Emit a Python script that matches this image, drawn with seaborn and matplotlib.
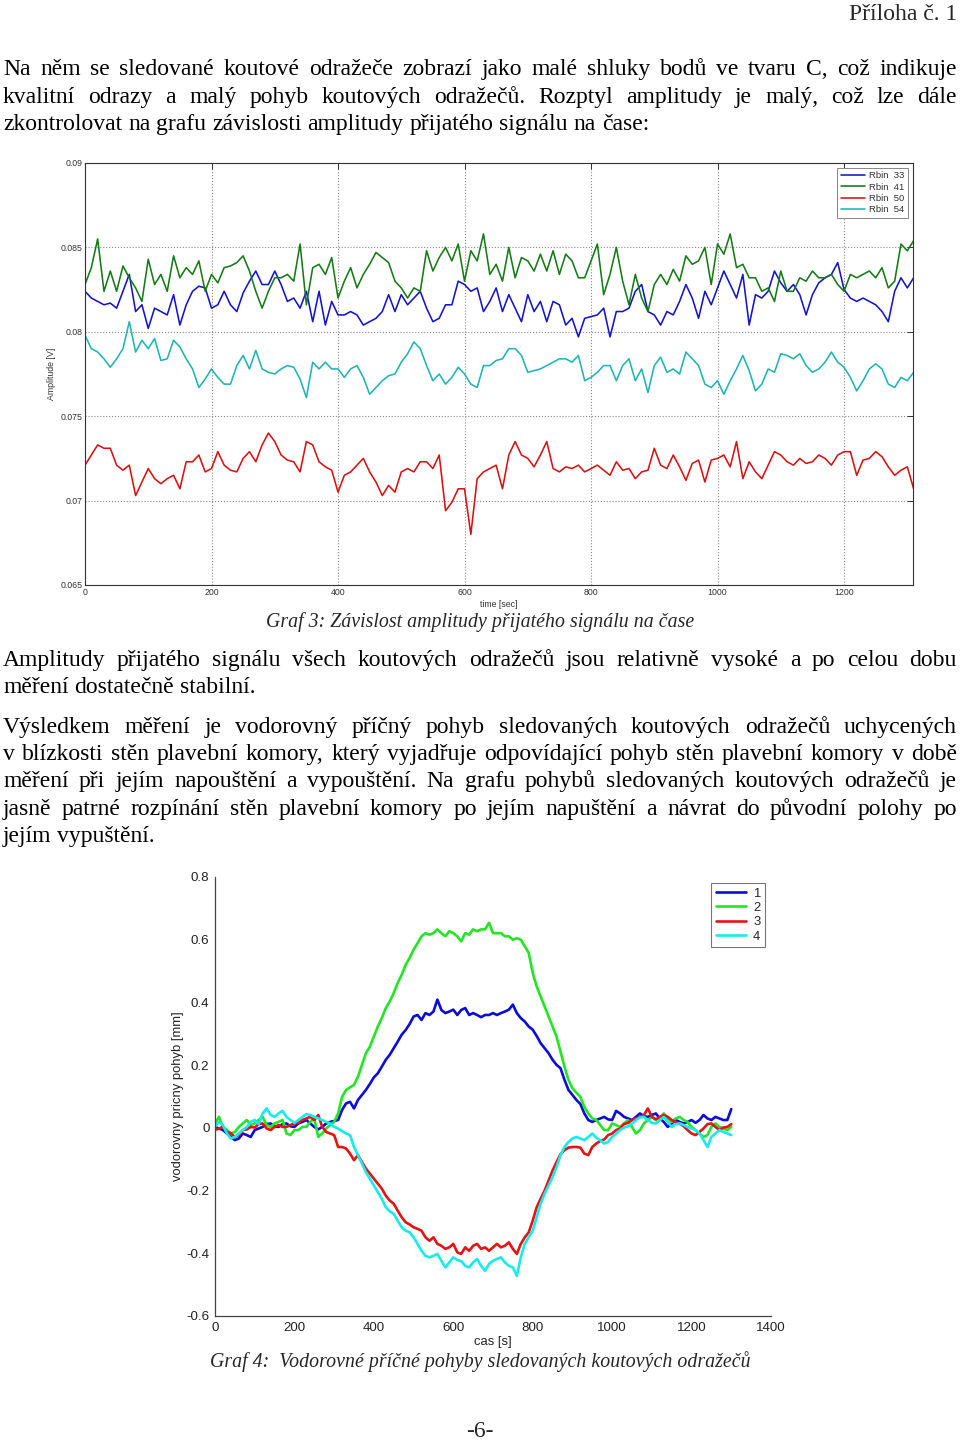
import numpy as np
import pandas as pd
import matplotlib
matplotlib.use("Agg")
import matplotlib.pyplot as plt
from matplotlib.ticker import FixedLocator, FixedFormatter
import seaborn as sns

W, H = 960, 1440
sns.set_theme(style="white")
plt.rcParams["font.family"] = ["Liberation Sans", "DejaVu Sans"]
SERIF = ["Liberation Serif", "DejaVu Serif"]

# ---------------- Graf 3: amplitude vs time (sampled every 10 s) ----------------
amp_step_s = 10
rbin33 = [0.0824, 0.0820, 0.0818, 0.0816, 0.0817, 0.0814, 0.0824, 0.0834, 0.0812, 0.0816,
          0.0802, 0.0814, 0.0812, 0.0810, 0.0822, 0.0804, 0.0816, 0.0824, 0.0827, 0.0826,
          0.0814, 0.0816, 0.0824, 0.0816, 0.0812, 0.0823, 0.0830, 0.0836, 0.0828, 0.0828,
          0.0836, 0.0828, 0.0818, 0.0820, 0.0814, 0.0824, 0.0806, 0.0824, 0.0804, 0.0818,
          0.0810, 0.0810, 0.0812, 0.0810, 0.0804,
          0.0806, 0.0808, 0.0812, 0.0822, 0.0812, 0.0822, 0.0816, 0.0820, 0.0824, 0.0814,
          0.0806, 0.0808, 0.0816, 0.0816, 0.0830, 0.0828, 0.0824, 0.0826, 0.0812, 0.0818,
          0.0826, 0.0812, 0.0822, 0.0814, 0.0806, 0.0822, 0.0812, 0.0818, 0.0806, 0.0818,
          0.0816, 0.0804, 0.0808, 0.0797, 0.0808, 0.0809, 0.0810, 0.0814, 0.0797, 0.0812,
          0.0812, 0.0814, 0.0824,
          0.0828, 0.0812, 0.0810, 0.0804, 0.0812, 0.0810, 0.0818, 0.0828, 0.0820, 0.0808,
          0.0824, 0.0816, 0.0826, 0.0836, 0.0828, 0.0820, 0.0834, 0.0804, 0.0822, 0.0820,
          0.0824, 0.0836, 0.0829, 0.0824, 0.0828, 0.0822, 0.0810, 0.0822, 0.0829, 0.0832,
          0.0834, 0.0841, 0.0825, 0.0820, 0.0818, 0.0820, 0.0818, 0.0816, 0.0812, 0.0806,
          0.0824, 0.0832, 0.0826, 0.0832]
rbin41 = [0.0828, 0.0838, 0.0855, 0.0824, 0.0836, 0.0824, 0.0839, 0.0832, 0.0826, 0.0818,
          0.0843, 0.0828, 0.0834, 0.0824, 0.0845, 0.0832, 0.0838, 0.0834, 0.0842, 0.0824,
          0.0834, 0.0829, 0.0838, 0.0839, 0.0841, 0.0845, 0.0836, 0.0824, 0.0814, 0.0824,
          0.0832, 0.0832, 0.0834, 0.0830, 0.0852, 0.0816, 0.0838, 0.0840, 0.0834, 0.0844,
          0.0820, 0.0830, 0.0838, 0.0826, 0.0834,
          0.0840, 0.0847, 0.0844, 0.0841, 0.0830, 0.0826, 0.0820, 0.0826, 0.0824, 0.0848,
          0.0836, 0.0844, 0.0850, 0.0842, 0.0852, 0.0830, 0.0848, 0.0842, 0.0858, 0.0834,
          0.0840, 0.0830, 0.0850, 0.0832, 0.0844, 0.0842, 0.0836, 0.0846, 0.0836, 0.0848,
          0.0834, 0.0846, 0.0842, 0.0832, 0.0832, 0.0842, 0.0852, 0.0822, 0.0834, 0.0850,
          0.0830, 0.0816, 0.0834,
          0.0820, 0.0812, 0.0828, 0.0834, 0.0828, 0.0837, 0.0830, 0.0845, 0.0840, 0.0842,
          0.0850, 0.0828, 0.0852, 0.0846, 0.0858, 0.0838, 0.0840, 0.0832, 0.0832, 0.0824,
          0.0826, 0.0818, 0.0836, 0.0824, 0.0824, 0.0832, 0.0830, 0.0836, 0.0832, 0.0832,
          0.0834, 0.0828, 0.0824, 0.0834, 0.0832, 0.0834, 0.0836, 0.0832, 0.0838, 0.0826,
          0.0830, 0.0852, 0.0848, 0.0854]
rbin50 = [0.0721, 0.0727, 0.0733, 0.0731, 0.0731, 0.0721, 0.0718, 0.0721, 0.0703, 0.0711,
          0.0719, 0.0713, 0.0710, 0.0713, 0.0715, 0.0707, 0.0723, 0.0723, 0.0727, 0.0717,
          0.0719, 0.0729, 0.0721, 0.0718, 0.0717, 0.0725, 0.0729, 0.0723, 0.0733, 0.0740,
          0.0735, 0.0727, 0.0724, 0.0723, 0.0717, 0.0735, 0.0733, 0.0723, 0.0720, 0.0718,
          0.0705, 0.0715, 0.0717, 0.0721, 0.0725,
          0.0717, 0.0711, 0.0703, 0.0709, 0.0705, 0.0717, 0.0719, 0.0717, 0.0723, 0.0723,
          0.0719, 0.0727, 0.0694, 0.0699, 0.0707, 0.0707, 0.0680, 0.0713, 0.0717, 0.0719,
          0.0721, 0.0707, 0.0727, 0.0735, 0.0727, 0.0725, 0.0720, 0.0727, 0.0735, 0.0719,
          0.0717, 0.0720, 0.0719, 0.0721, 0.0717, 0.0719, 0.0721, 0.0718, 0.0715, 0.0723,
          0.0718, 0.0719, 0.0713,
          0.0717, 0.0718, 0.0731, 0.0721, 0.0719, 0.0727, 0.0720, 0.0712, 0.0722, 0.0724,
          0.0711, 0.0724, 0.0725, 0.0727, 0.0720, 0.0735, 0.0713, 0.0723, 0.0717, 0.0713,
          0.0721, 0.0729, 0.0727, 0.0723, 0.0721, 0.0725, 0.0722, 0.0723, 0.0727, 0.0725,
          0.0721, 0.0727, 0.0729, 0.0729, 0.0715, 0.0724, 0.0725, 0.0729, 0.0726, 0.0720,
          0.0715, 0.0718, 0.0720, 0.0707]
rbin54 = [0.0798, 0.0790, 0.0788, 0.0784, 0.0779, 0.0784, 0.0790, 0.0806, 0.0788, 0.0795,
          0.0790, 0.0796, 0.0783, 0.0784, 0.0795, 0.0791, 0.0784, 0.0778, 0.0767, 0.0772,
          0.0778, 0.0773, 0.0769, 0.0769, 0.0780, 0.0786, 0.0778, 0.0789, 0.0778, 0.0776,
          0.0775, 0.0778, 0.0780, 0.0779, 0.0772, 0.0761, 0.0782, 0.0778, 0.0782, 0.0778,
          0.0778, 0.0773, 0.0778, 0.0780, 0.0773,
          0.0763, 0.0767, 0.0771, 0.0774, 0.0775, 0.0782, 0.0787, 0.0794, 0.0790, 0.0780,
          0.0771, 0.0775, 0.0769, 0.0773, 0.0779, 0.0775, 0.0769, 0.0767, 0.0780, 0.0780,
          0.0783, 0.0784, 0.0790, 0.0790, 0.0786, 0.0776, 0.0777, 0.0778, 0.0780, 0.0782,
          0.0784, 0.0784, 0.0782, 0.0786, 0.0771, 0.0773, 0.0776, 0.0780, 0.0780, 0.0771,
          0.0780, 0.0784, 0.0771,
          0.0778, 0.0764, 0.0780, 0.0785, 0.0776, 0.0778, 0.0775, 0.0788, 0.0784, 0.0780,
          0.0769, 0.0767, 0.0771, 0.0763, 0.0771, 0.0778, 0.0786, 0.0777, 0.0765, 0.0769,
          0.0778, 0.0776, 0.0787, 0.0786, 0.0784, 0.0787, 0.0780, 0.0776, 0.0778, 0.0782,
          0.0788, 0.0782, 0.0779, 0.0773, 0.0765, 0.0771, 0.0778, 0.0781, 0.0778, 0.0769,
          0.0767, 0.0773, 0.0771, 0.0776]
amp_labels = ["Rbin  33", "Rbin  41", "Rbin  50", "Rbin  54"]
amp_colors = ["#1414c8", "#167a16", "#d41414", "#20b4b4"]
amp_xticks = [0, 200, 400, 600, 800, 1000, 1200]
amp_yticks = [0.065, 0.07, 0.075, 0.08, 0.085, 0.09]
amp_yticklabels = ["0.065", "0.07", "0.075", "0.08", "0.085", "0.09"]

# ---------------- Graf 4: horizontal movement (sampled every 10 s) ----------------
pos_step_s = 10
pos1 = [0.003, -0.002, -0.007, -0.018, -0.029, -0.039, -0.034, -0.018, -0.023, -0.029,
        -0.007, -0.002, 0.003, 0.012, 0.014, 0.005, 0.003, 0.012, 0.014, 0.005,
        0.003, 0.014, 0.019, 0.025, 0.014, 0.003, -0.005, 0.003, 0.014, 0.019,
        0.022, 0.025, 0.057, 0.078, 0.083, 0.062, 0.089, 0.105, 0.121, 0.140,
        0.161, 0.174, 0.195, 0.217, 0.233, 0.254, 0.275, 0.297, 0.312, 0.331,
        0.355, 0.360, 0.344, 0.366, 0.360, 0.371, 0.409, 0.376, 0.366, 0.371,
        0.377, 0.360, 0.376, 0.382, 0.360, 0.366, 0.360, 0.353, 0.360, 0.360,
        0.366, 0.360, 0.366, 0.371, 0.377, 0.393, 0.366, 0.350, 0.339, 0.323,
        0.313, 0.293, 0.270, 0.254, 0.238, 0.217, 0.201, 0.190, 0.153, 0.121,
        0.105, 0.089, 0.076, 0.046, 0.025, 0.019, 0.025, 0.030, 0.035, 0.027,
        0.025, 0.054, 0.046, 0.035, 0.030, 0.025, 0.035, 0.046, 0.037, 0.035,
        0.041, 0.046, 0.030, 0.019, 0.003, 0.014, 0.025, 0.019, 0.014, 0.019,
        0.025, 0.016, 0.025, 0.041, 0.030, 0.025, 0.035, 0.030, 0.025, 0.025,
        0.060]
pos2 = [0.014, 0.035, 0.003, -0.007, -0.018, -0.013, 0.003, 0.014, 0.025, 0.009,
        0.014, 0.025, 0.035, 0.009, 0.003, 0.014, 0.019, 0.025, -0.018, -0.023,
        -0.007, -0.007, 0.003, 0.003, 0.019, 0.030, -0.029, -0.018, -0.002, 0.009,
        0.019, 0.046, 0.099, 0.121, 0.129, 0.137, 0.163, 0.201, 0.238, 0.259,
        0.291, 0.323, 0.350, 0.382, 0.403, 0.430, 0.462, 0.488, 0.520, 0.542,
        0.568, 0.589, 0.611, 0.621, 0.616, 0.621, 0.633, 0.621, 0.611, 0.627,
        0.621, 0.611, 0.595, 0.621, 0.616, 0.633, 0.627, 0.633, 0.633, 0.654,
        0.621, 0.621, 0.621, 0.611, 0.611, 0.600, 0.605, 0.600, 0.579, 0.558,
        0.494, 0.451, 0.419, 0.387, 0.355, 0.323, 0.291, 0.243, 0.195, 0.153,
        0.126, 0.112, 0.099, 0.067, 0.046, 0.030, 0.025, 0.009, -0.007, -0.007,
        0.014, 0.009, 0.003, 0.014, 0.025, 0.003, -0.018, -0.007, 0.014, 0.025,
        0.035, 0.025, 0.030, 0.046, 0.030, 0.019, 0.030, 0.035, 0.025, 0.019,
        0.003, -0.007, -0.018, -0.029, -0.023, 0.003, 0.014, 0.003, -0.002, -0.007,
        0.003]
pos3 = [-0.007, -0.002, 0.003, -0.013, -0.018, -0.029, -0.023, -0.007, -0.005, 0.003,
        0.001, 0.012, 0.014, -0.002, -0.007, 0.003, 0.009, 0.003, 0.003, 0.009,
        0.014, 0.016, 0.025, 0.030, 0.035, 0.025, 0.041, 0.003, -0.013, -0.018,
        -0.023, -0.061, -0.061, -0.066, -0.082, -0.103, -0.087, -0.109, -0.130, -0.146,
        -0.162, -0.178, -0.194, -0.216, -0.232, -0.242, -0.264, -0.285, -0.301, -0.308,
        -0.317, -0.322, -0.328, -0.349, -0.360, -0.349, -0.370, -0.376, -0.386, -0.381,
        -0.370, -0.397, -0.402, -0.381, -0.392, -0.376, -0.370, -0.386, -0.381, -0.392,
        -0.381, -0.370, -0.381, -0.376, -0.365, -0.386, -0.402, -0.370, -0.349, -0.333,
        -0.296, -0.253, -0.226, -0.200, -0.168, -0.136, -0.109, -0.084, -0.071, -0.063,
        -0.061, -0.061, -0.063, -0.082, -0.087, -0.061, -0.050, -0.042, -0.037, -0.023,
        -0.018, -0.007, -0.002, 0.012, 0.016, 0.025, 0.030, 0.035, 0.041, 0.062,
        0.035, 0.027, 0.035, 0.041, 0.035, 0.025, 0.019, 0.014, 0.005, -0.007,
        -0.018, -0.023, -0.013, -0.002, 0.012, 0.014, 0.003, -0.007, 0.001, 0.003,
        0.012]
pos4 = [0.003, 0.019, 0.009, -0.018, -0.034, -0.029, -0.018, -0.007, 0.003, 0.019,
        0.025, 0.012, 0.046, 0.062, 0.041, 0.035, 0.046, 0.054, 0.035, 0.025,
        0.016, 0.025, 0.035, 0.044, 0.041, 0.035, 0.030, 0.025, 0.019, 0.014,
        0.003, -0.002, -0.010, -0.018, -0.023, -0.061, -0.087, -0.114, -0.141, -0.162,
        -0.184, -0.205, -0.226, -0.253, -0.266, -0.274, -0.296, -0.317, -0.328, -0.333,
        -0.349, -0.370, -0.392, -0.408, -0.413, -0.408, -0.402, -0.424, -0.445, -0.429,
        -0.413, -0.421, -0.425, -0.440, -0.445, -0.429, -0.418, -0.440, -0.456, -0.434,
        -0.424, -0.418, -0.413, -0.429, -0.440, -0.445, -0.472, -0.413, -0.370, -0.349,
        -0.328, -0.285, -0.242, -0.210, -0.184, -0.157, -0.125, -0.087, -0.061, -0.045,
        -0.034, -0.029, -0.034, -0.039, -0.029, -0.018, -0.031, -0.039, -0.050, -0.045,
        -0.029, -0.018, -0.007, 0.001, 0.005, 0.014, 0.025, 0.033, 0.035, 0.025,
        0.016, 0.014, 0.025, 0.035, 0.019, 0.003, 0.012, 0.014, 0.009, 0.003,
        -0.002, -0.007, -0.018, -0.039, -0.061, -0.029, -0.018, -0.007, -0.013, -0.018,
        -0.023]
pos_labels = ["1", "2", "3", "4"]
pos_colors = ["#0c0cd8", "#22e622", "#e41414", "#16ecec"]
pos_xticks = [0, 200, 400, 600, 800, 1000, 1200, 1400]
pos_yticks = [-0.6, -0.4, -0.2, 0.0, 0.2, 0.4, 0.6, 0.8]
pos_yticklabels = ["-0.6", "-0.4", "-0.2", "0", "0.2", "0.4", "0.6", "0.8"]

# ---------------- page text ----------------
header = "Příloha č. 1"
para1 = [("Na něm se sledované koutové odražeče zobrazí jako malé shluky bodů ve tvaru C, což indikuje", True, 75),
         ("kvalitní odrazy a malý pohyb koutových odražečů. Rozptyl amplitudy je malý, což lze dále", True, 103),
         ("zkontrolovat na grafu závislosti amplitudy přijatého signálu na čase:", False, 130)]
caption3 = ("Graf 3: Závislost amplitudy přijatého signálu na čase", 627)
para2 = [("Amplitudy přijatého signálu všech koutových odražečů jsou relativně vysoké a po celou dobu", True, 666),
         ("měření dostatečně stabilní.", False, 693)]
para3 = [("Výsledkem měření je vodorovný příčný pohyb sledovaných koutových odražečů uchycených", True, 733),
         ("v blízkosti stěn plavební komory, který vyjadřuje odpovídající pohyb stěn plavební komory v době", True, 760),
         ("měření při jejím napouštění a vypouštění. Na grafu pohybů sledovaných koutových odražečů je", True, 787),
         ("jasně patrné rozpínání stěn plavební komory po jejím napuštění a návrat do původní polohy po", True, 815),
         ("jejím vypuštění.", False, 842)]
caption4 = ("Graf 4:  Vodorovné příčné pohyby sledovaných koutových odražečů", 1367)
page_no = ("-6-", 1437)


def long_df(series, labels, step):
    frames = []
    for s, lab in zip(series, labels):
        t = np.arange(len(s)) * step
        frames.append(pd.DataFrame({"t": t, "v": s, "series": lab}))
    return pd.concat(frames, ignore_index=True)


fig = plt.figure(figsize=(W / 100, H / 100), dpi=100)
fig.patch.set_facecolor("white")

# ---------------- chart 1 ----------------
ax1 = fig.add_axes([85 / W, 1 - 585 / H, 828 / W, 422 / H])
df1 = long_df([rbin33, rbin41, rbin50, rbin54], amp_labels, amp_step_s)
sns.lineplot(data=df1, x="t", y="v", hue="series", hue_order=amp_labels,
             palette=amp_colors, linewidth=1.15, estimator=None, sort=False,
             legend=False, ax=ax1)
ax1.set_xlim(0, 1309)
ax1.set_ylim(0.065, 0.09)
ax1.xaxis.set_major_locator(FixedLocator(amp_xticks))
ax1.yaxis.set_major_locator(FixedLocator(amp_yticks))
ax1.yaxis.set_major_formatter(FixedFormatter(amp_yticklabels))
ax1.grid(True, linestyle=":", color="#8a8a8a", linewidth=0.8)
for sp in ax1.spines.values():
    sp.set_visible(True)
    sp.set_color("#333333")
    sp.set_linewidth(0.8)
ax1.tick_params(direction="in", top=True, right=True, length=4, width=0.7,
                labelsize=6.3, labelcolor="#333333", color="#333333", pad=2)
ax1.set_xlabel("time [sec]", fontsize=6.3, color="#333333", labelpad=2)
ax1.set_ylabel("Amplitude [V]", fontsize=6.3, color="#333333", labelpad=3)
leg1 = ax1.legend(handles=ax1.lines[:4], labels=amp_labels, loc="upper right",
                  bbox_to_anchor=(908 / W, 1 - 168 / H), bbox_transform=fig.transFigure,
                  fontsize=6.8, frameon=True, fancybox=False, framealpha=1,
                  edgecolor="#888888", handlelength=2.6, handletextpad=0.45,
                  labelspacing=0.25, borderpad=0.35, borderaxespad=0)
leg1.get_frame().set_linewidth(0.7)
for txt in leg1.get_texts():
    txt.set_color("#333333")

# ---------------- chart 2 ----------------
ax2 = fig.add_axes([215 / W, 1 - 1316 / H, (771 - 215) / W, (1316 - 877) / H])
df2 = long_df([pos1, pos2, pos3, pos4], pos_labels, pos_step_s)
sns.lineplot(data=df2, x="t", y="v", hue="series", hue_order=pos_labels,
             palette=pos_colors, linewidth=1.9, estimator=None, sort=False,
             legend=False, ax=ax2)
ax2.set_xlim(0, 1400)
ax2.set_ylim(-0.6, 0.8)
ax2.xaxis.set_major_locator(FixedLocator(pos_xticks))
ax2.yaxis.set_major_locator(FixedLocator(pos_yticks))
ax2.yaxis.set_major_formatter(FixedFormatter(pos_yticklabels))
ax2.grid(False)
ax2.spines["top"].set_visible(False)
ax2.spines["right"].set_visible(False)
for k in ("left", "bottom"):
    ax2.spines[k].set_color("#444444")
    ax2.spines[k].set_linewidth(0.9)
ax2.tick_params(direction="in", length=5, width=0.8, labelsize=9.6,
                labelcolor="#222222", color="#444444", pad=4)
ax2.set_xlabel("cas [s]", fontsize=9.4, color="#222222", labelpad=2)
ax2.set_ylabel("vodorovny pricny pohyb [mm]", fontsize=9.4, color="#222222", labelpad=2)
leg2 = ax2.legend(handles=ax2.lines[:4], labels=pos_labels, loc="upper right",
                  bbox_to_anchor=(765 / W, 1 - 883 / H), bbox_transform=fig.transFigure,
                  fontsize=9.4, frameon=True, fancybox=False, framealpha=1,
                  edgecolor="#777777", handlelength=2.3, handletextpad=0.55,
                  labelspacing=0.17, borderpad=0.35, borderaxespad=0)
leg2.get_frame().set_linewidth(0.8)

# ---------------- text ----------------
BODY = 17
CAP = 14.3
renderer = fig.canvas.get_renderer()


def put_line(text, baseline, justify, size=BODY, x0=3, x1=957):
    words = text.split(" ")
    objs = [fig.text(0, 1 - baseline / H, w, fontsize=size, family=SERIF,
                     va="baseline", ha="left", color="black") for w in words]
    widths = [o.get_window_extent(renderer).width for o in objs]
    if justify and len(words) > 1:
        gap = (x1 - x0 - sum(widths)) / (len(words) - 1)
    else:
        gap = size * 100 / 72 * 0.25
    x = x0
    for o, w in zip(objs, widths):
        o.set_x(x / W)
        x += w + gap


for para in (para1, para2, para3):
    for text, just, base in para:
        put_line(text, base, just)

fig.text(957 / W, 1 - 20 / H, header, fontsize=BODY, family=SERIF,
         ha="right", va="baseline")
for cap, base in (caption3, caption4):
    fig.text(480 / W, 1 - base / H, cap, fontsize=CAP, family=SERIF,
             style="italic", ha="center", va="baseline")
fig.text(480 / W, 1 - page_no[1] / H, page_no[0], fontsize=BODY, family=SERIF,
         ha="center", va="baseline")

fig.savefig("out.png", dpi=100, facecolor="white")
